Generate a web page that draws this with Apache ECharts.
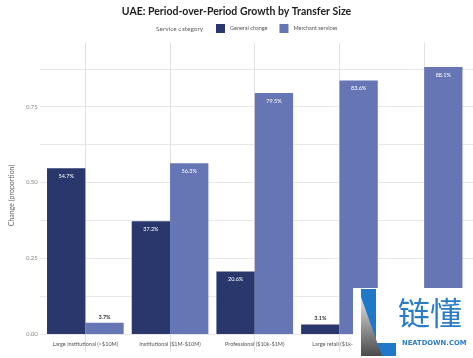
<!DOCTYPE html>
<html><head><meta charset="utf-8">
<script src="https://cdn.jsdelivr.net/npm/echarts@6/dist/echarts.min.js"></script>
<style>html,body{margin:0;padding:0;background:#fff}#c{width:473px;height:358px}</style>
</head><body><div id="c"></div>
<script>
const categories = ['Large institutional (>$10M)', 'Institutional ($1M-$10M)', 'Professional ($10k-$1M)', 'Large retail ($1k-$10k)', 'Small retail (<$1k)'];
const generalChange = [0.547, 0.372, 0.206, 0.031, 0.012];
const merchantServices = [0.037, 0.563, 0.795, 0.836, 0.881];
const seriesNames = ['General change', 'Merchant services'];
const yLabelStep = 0.25;

const COLORS = ['#29376c', '#6676b5'];
const FONT = 'Lato, "Open Sans", sans-serif';

function items(arr) {
  return arr.map(v => {
    const small = v < 0.08;
    return {
      value: v,
      label: small
        ? { position: 'top', color: '#333', fontWeight: 'bold', distance: 3 }
        : { position: 'insideTop', color: '#fff', distance: 5 }
    };
  });
}
const pct = p => (p.value * 100).toFixed(1) + '%';

const chart = echarts.init(document.getElementById('c'));
chart.setOption({
  animation: false,
  backgroundColor: '#fff',
  textStyle: { fontFamily: FONT },
  title: [
    { text: 'UAE: Period-over-Period Growth by Transfer Size', left: 'center', top: 1,
      textStyle: { fontSize: 10.5, fontWeight: 'bold', color: '#222', fontFamily: FONT } },
    { text: 'Service category', left: 156, top: 25, padding: 0,
      textStyle: { fontSize: 6.5, fontWeight: 'normal', color: '#666', fontFamily: FONT } }
  ],
  legend: {
    data: seriesNames, left: 216, top: 24, padding: 0,
    itemWidth: 9, itemHeight: 9, itemGap: 12, icon: 'rect',
    textStyle: { fontSize: 5.5, color: '#555', fontFamily: FONT }
  },
  grid: [
    { left: 43, right: 6.5, top: 43, bottom: 24 },
    { left: 33, right: 0, top: 43, bottom: 24 }
  ],
  xAxis: [
    { type: 'category', gridIndex: 0, data: categories,
      axisLine: { show: false },
      axisTick: { show: true, alignWithLabel: true, length: 18, interval: 0, lineStyle: { color: '#e2e2e2' } },
      splitLine: { show: true, alignWithLabel: true, interval: 0, lineStyle: { color: '#e2e2e2' } },
      axisLabel: { interval: 0, fontSize: 5.5, color: '#555', margin: 7, fontFamily: FONT } },
    { type: 'value', gridIndex: 1, show: false, min: 0, max: 1 }
  ],
  yAxis: [
    { type: 'value', gridIndex: 0, min: 0, max: 0.96, show: false, splitLine: { show: false } },
    { type: 'value', gridIndex: 1, min: 0, max: 0.96, interval: 0.125,
      name: 'Change (proportion)', nameLocation: 'middle', nameGap: 20,
      nameTextStyle: { fontSize: 7, color: '#666', fontFamily: FONT, padding: [0, 14, 0, 0] },
      axisLine: { show: false }, axisTick: { show: false },
      splitLine: { show: true, showMaxLine: false, lineStyle: { color: '#e8e8e8' } },
      axisLabel: { fontSize: 6, color: '#888', margin: 2, fontFamily: FONT,
        formatter: v => {
          const k = v / yLabelStep;
          return Math.abs(k - Math.round(k)) < 1e-6 ? v.toFixed(2) : '';
        } } }
  ],
  series: [
    { name: seriesNames[0], type: 'bar', xAxisIndex: 0, yAxisIndex: 0,
      data: items(generalChange), itemStyle: { color: COLORS[0] },
      barGap: '0%', barCategoryGap: '9.5%',
      label: { show: true, fontSize: 5.5, formatter: pct, fontFamily: FONT } },
    { name: seriesNames[1], type: 'bar', xAxisIndex: 0, yAxisIndex: 0,
      data: items(merchantServices), itemStyle: { color: COLORS[1] },
      barGap: '0%', barCategoryGap: '9.5%',
      label: { show: true, fontSize: 5.5, formatter: pct, fontFamily: FONT } }
  ],
  graphic: [
    { type: 'rect', z: 100, shape: { x: 353, y: 288, width: 120, height: 70 }, style: { fill: '#fff' } },
    { type: 'polygon', z: 101, shape: { points: [[361, 289], [376, 289], [376, 343], [396, 343], [396, 356], [361, 356]] },
      style: { fill: '#1f78c8' } },
    { type: 'polygon', z: 102, shape: { points: [[361, 297], [382, 356], [361, 356]] },
      style: { fill: new echarts.graphic.LinearGradient(0, 0, 0, 1, [
        { offset: 0, color: '#e4e4e4' }, { offset: 1, color: '#4a4a4a' }]) } },
    { type: 'text', z: 103, style: { text: '链懂', x: 398, y: 297, font: 'normal 32px "Noto Sans CJK SC"',
      fill: '#2a7cc7', align: 'left', verticalAlign: 'top' } },
    { type: 'text', z: 103, style: { text: 'NEATDOWN.COM', x: 402, y: 343, font: 'bold 6.8px "DejaVu Sans"',
      fill: '#2a7cc7', align: 'left', verticalAlign: 'middle' } }
  ]
});
</script></body></html>
